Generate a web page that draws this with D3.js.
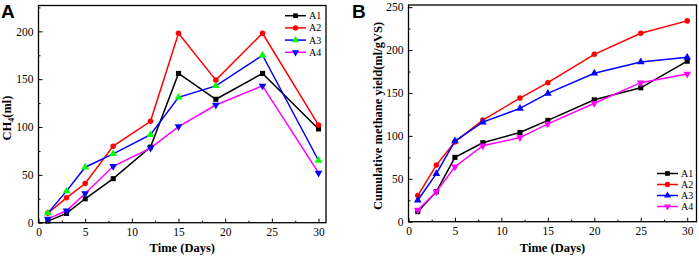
<!DOCTYPE html>
<html>
<head>
<meta charset="utf-8">
<script src="https://cdn.jsdelivr.net/npm/d3@7"></script>
<style>
  body { margin: 0; background: #fff; }
  svg text { font-family: "Liberation Serif", "Times New Roman", serif; }
</style>
</head>
<body>
<div id="chart"></div>
<script>
// data
const seriesNames = ['A1', 'A2', 'A3', 'A4'];

const daysA = [1, 3, 5, 8, 12, 15, 19, 24, 30];
const ch4A1 = [1.7, 9.7, 25, 46, 79, 156, 129, 156, 98];
const ch4A2 = [10, 26, 41, 80, 106, 198, 149, 198, 102];
const ch4A3 = [10, 33, 58, 72, 92, 131, 143, 175, 65];
const ch4A4 = [4, 12.5, 30.5, 59, 78, 100.5, 123, 143, 52];

const daysB = [1, 3, 5, 8, 12, 15, 20, 25, 30];
const yieldA1 = [11.7, 35, 75, 92, 104, 118, 142, 156, 187];
const yieldA2 = [30.5, 66, 93, 118.5, 144, 162, 195, 219.5, 234];
const yieldA3 = [25, 56, 94, 116, 132, 149.5, 173, 186, 191.5];
const yieldA4 = [13.6, 35, 64, 88.5, 98, 114, 138, 162, 172];

const xTicks = [0, 5, 10, 15, 20, 25, 30];
const yTicksA = [0, 50, 100, 150, 200];
const yTicksB = [0, 50, 100, 150, 200, 250];

const width = 699, height = 256;

const svg = d3.select('#chart')
    .append('svg')
    .attr('width', width)
    .attr('height', height);

// line colour, marker shape, marker fill per panel
const styleA = [
    {line: '#000000', sym: d3.symbolSquare, fill: '#000000', rot: 0},
    {line: '#ff0000', sym: d3.symbolCircle, fill: '#ff0000', rot: 0},
    {line: '#0000ff', sym: d3.symbolTriangle, fill: '#00ff00', rot: 0},
    {line: '#ff00ff', sym: d3.symbolTriangle, fill: '#0000ff', rot: 180}
];
const styleB = [
    {line: '#000000', sym: d3.symbolSquare, fill: '#000000', rot: 0},
    {line: '#ff0000', sym: d3.symbolCircle, fill: '#ff0000', rot: 0},
    {line: '#0000ff', sym: d3.symbolTriangle, fill: '#0000ff', rot: 0},
    {line: '#ff00ff', sym: d3.symbolTriangle, fill: '#ff00ff', rot: 180}
];

function panel(opt) {
    let g = svg.append('g');

    let xScale = d3.scaleLinear().domain(opt.xDomain).range([opt.left, opt.right]);
    let yScale = d3.scaleLinear().domain(opt.yDomain).range([opt.bottom, opt.top]);

    // minor ticks
    let xMinor = d3.range(2.5, 30, 5);
    let yMinor = d3.range(25, opt.yDomain[1], 50);

    g.append('g')
        .attr('transform', `translate(0,${opt.bottom})`)
        .call(d3.axisBottom(xScale).tickValues(xMinor).tickSize(-2).tickFormat(''))
        .call(a => a.select('.domain').remove());
    g.append('g')
        .attr('transform', `translate(${opt.left},0)`)
        .call(d3.axisLeft(yScale).tickValues(yMinor).tickSize(-2).tickFormat(''))
        .call(a => a.select('.domain').remove());

    // major ticks
    g.append('g')
        .attr('transform', `translate(0,${opt.bottom})`)
        .call(d3.axisBottom(xScale).tickValues(xTicks).tickSize(-4).tickPadding(5))
        .call(a => a.select('.domain').remove())
        .selectAll('text')
        .style('font-size', '11.5px');
    g.append('g')
        .attr('transform', `translate(${opt.left},0)`)
        .call(d3.axisLeft(yScale).tickValues(opt.yTicks).tickSize(-4).tickPadding(5))
        .call(a => a.select('.domain').remove())
        .selectAll('text')
        .style('font-size', '11.5px');

    g.selectAll('.tick line').attr('stroke', '#000').attr('stroke-width', 1);

    // frame
    g.append('rect')
        .attr('x', opt.left)
        .attr('y', opt.top)
        .attr('width', opt.right - opt.left)
        .attr('height', opt.bottom - opt.top)
        .attr('fill', 'none')
        .attr('stroke', '#000')
        .attr('stroke-width', 1.3);

    let line = d3.line()
        .x(d => xScale(d[0]))
        .y(d => yScale(d[1]));

    opt.series.forEach((vals, i) => {
        let st = opt.style[i];
        let pts = opt.days.map((x, j) => [x, vals[j]]);
        g.append('path')
            .datum(pts)
            .attr('d', line)
            .attr('fill', 'none')
            .attr('stroke', st.line)
            .attr('stroke-width', 1.5);
        g.selectAll('.m' + i)
            .data(pts)
            .join('path')
            .attr('class', 'm' + i)
            .attr('d', d3.symbol().type(st.sym).size(st.sym === d3.symbolCircle ? 24 : 26))
            .attr('transform', d => `translate(${xScale(d[0])},${yScale(d[1])}) rotate(${st.rot})`)
            .attr('fill', st.fill);
    });

    // legend
    seriesNames.forEach((name, i) => {
        let st = opt.style[i];
        let ly = opt.legY + i * opt.legStep;
        g.append('line')
            .attr('x1', opt.legX).attr('x2', opt.legX + 21)
            .attr('y1', ly).attr('y2', ly)
            .attr('stroke', st.line)
            .attr('stroke-width', 1.5);
        g.append('path')
            .attr('d', d3.symbol().type(st.sym).size(22))
            .attr('transform', `translate(${opt.legX + 10.5},${ly}) rotate(${st.rot})`)
            .attr('fill', st.fill);
        g.append('text')
            .attr('x', opt.legX + 24)
            .attr('y', ly + 3.5)
            .style('font-size', '10px')
            .text(name);
    });

    // axis titles
    g.append('text')
        .attr('x', (opt.left + opt.right) / 2)
        .attr('y', 251.5)
        .attr('text-anchor', 'middle')
        .style('font-size', '12.5px')
        .style('font-weight', 'bold')
        .text('Time (Days)');

    let yl = g.append('text')
        .attr('transform', `translate(${opt.yLabelX},${opt.yLabelY}) rotate(-90)`)
        .attr('text-anchor', 'middle')
        .style('font-size', '12.5px')
        .style('font-weight', 'bold');
    opt.yLabel(yl);

    // panel letter
    g.append('text')
        .attr('x', opt.letterX)
        .attr('y', 17.5)
        .style('font-family', '"Liberation Sans", Arial, sans-serif')
        .style('font-size', '19px')
        .style('font-weight', 'bold')
        .text(opt.letter);
}

panel({
    letter: 'A', letterX: 1,
    left: 38.5, right: 326, top: 5.5, bottom: 222.7,
    xDomain: [0, 30.8], yDomain: [0, 227],
    yTicks: yTicksA,
    days: daysA,
    series: [ch4A1, ch4A2, ch4A3, ch4A4],
    style: styleA,
    legX: 285, legY: 15.7, legStep: 12.2,
    yLabelX: 11, yLabelY: 118,
    yLabel: t => {
        t.append('tspan').text('CH');
        t.append('tspan').attr('dy', 3).style('font-size', '8px').text('4');
        t.append('tspan').attr('dy', -3).text('(ml)');
    }
});

panel({
    letter: 'B', letterX: 352,
    left: 408.5, right: 696.5, top: 5, bottom: 221.7,
    xDomain: [0, 31], yDomain: [0, 252.5],
    yTicks: yTicksB,
    days: daysB,
    series: [yieldA1, yieldA2, yieldA3, yieldA4],
    style: styleB,
    legX: 657, legY: 173.5, legStep: 11,
    yLabelX: 382, yLabelY: 116,
    yLabel: t => t.text('Cumulative methane yield(ml/gVS)')
});
</script>
</body>
</html>
